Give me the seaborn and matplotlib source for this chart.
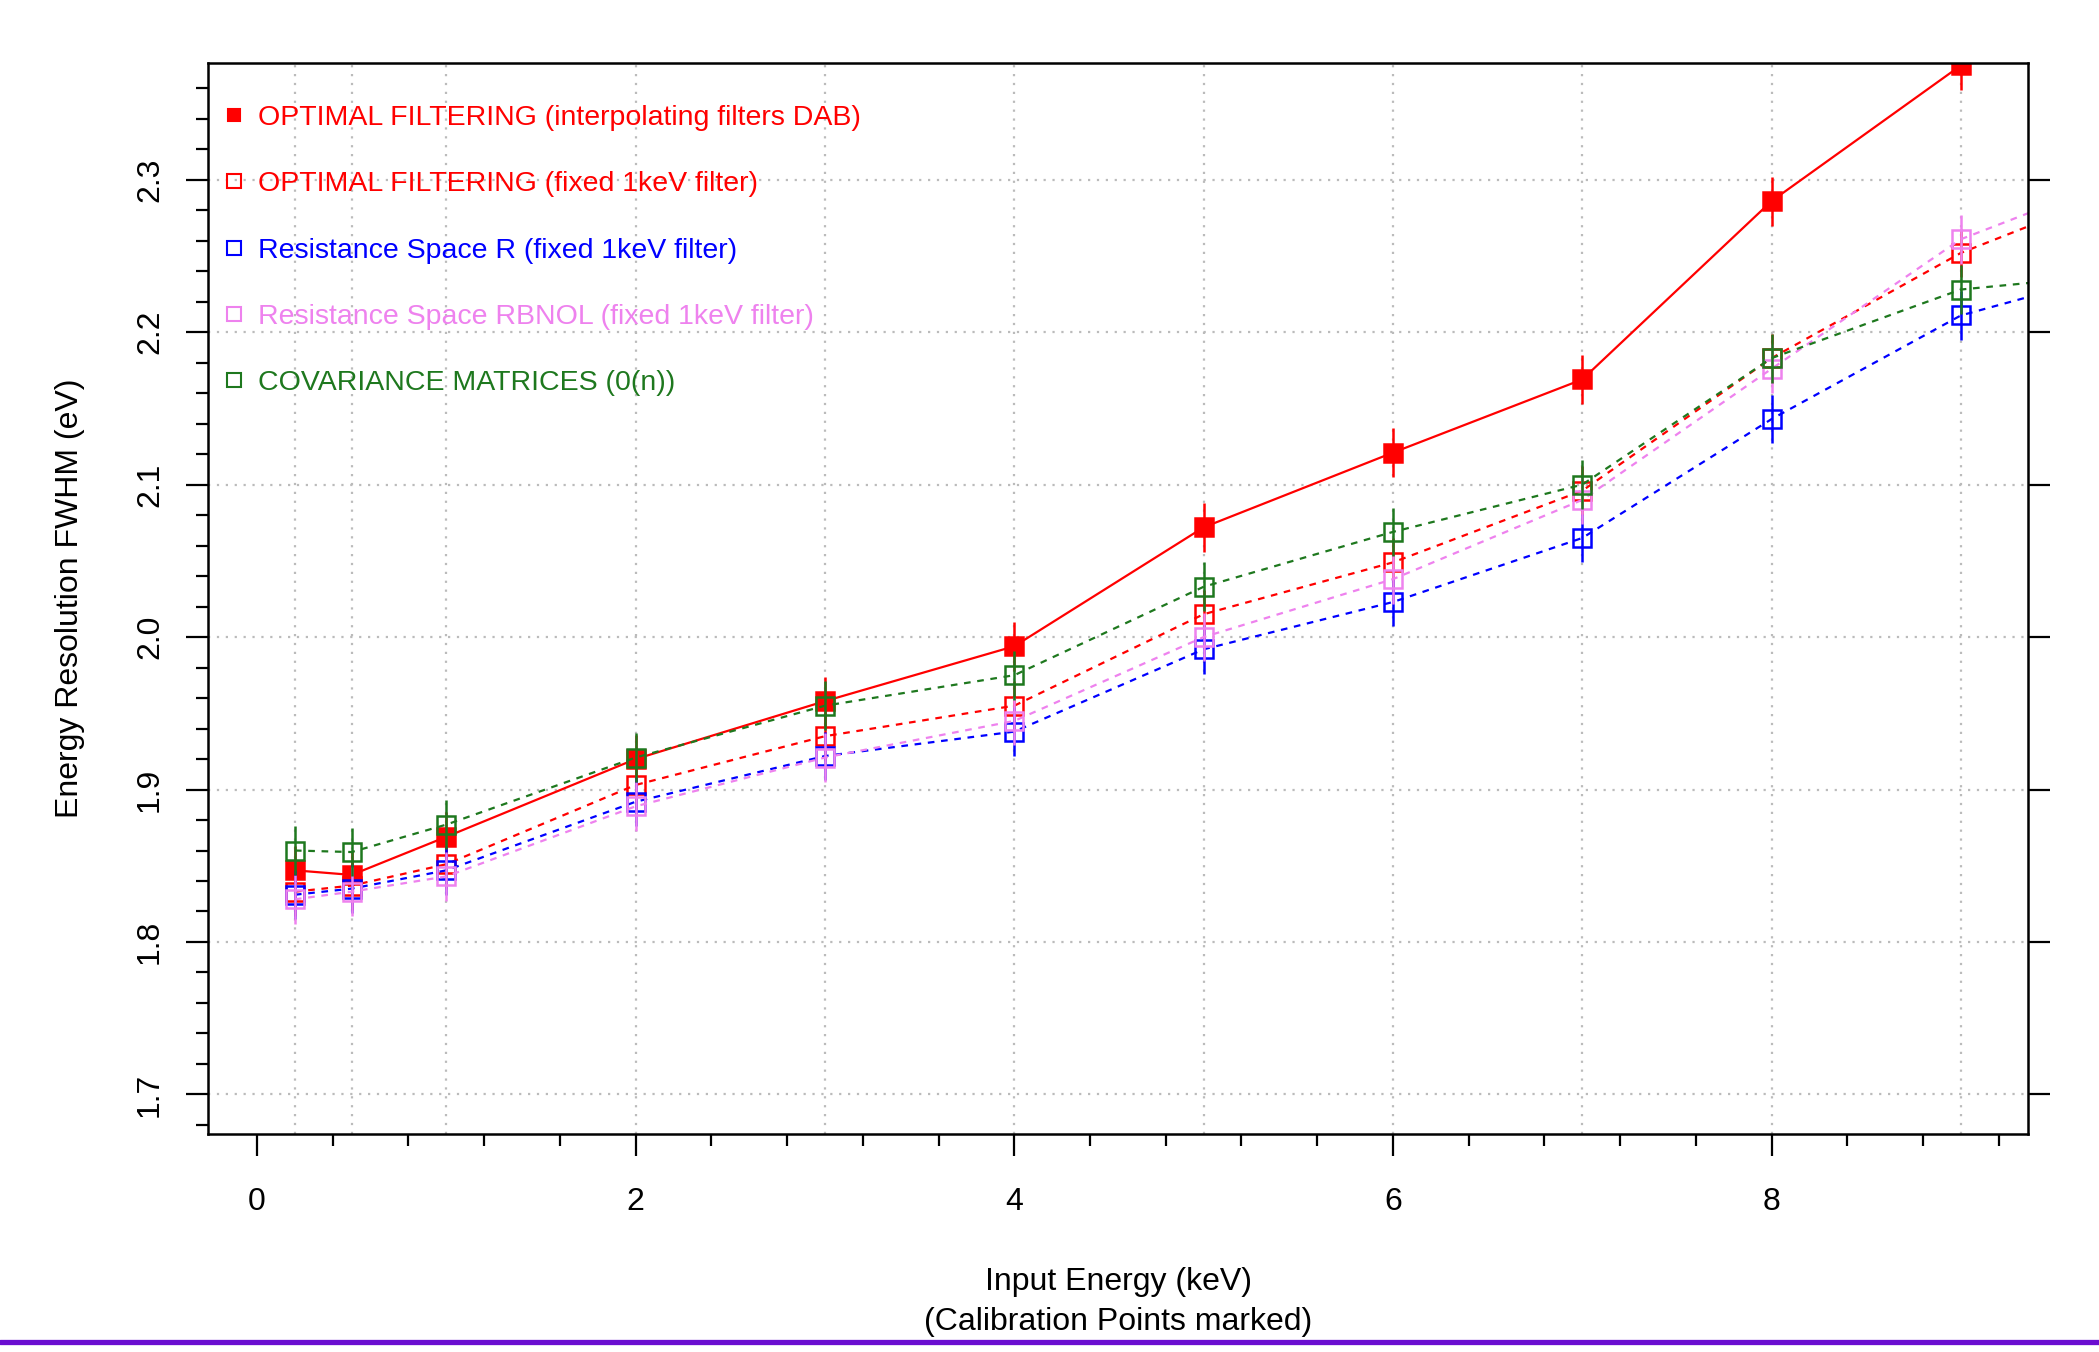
import numpy as np
import pandas as pd
import matplotlib.pyplot as plt
import seaborn as sns
from matplotlib.lines import Line2D
from matplotlib.ticker import MultipleLocator, FuncFormatter

# Calibration energies (keV) and FWHM resolutions (eV)
energy = [0.2, 0.5, 1, 2, 3, 4, 5, 6, 7, 8, 9, 10]
of_dab = [1.847, 1.844, 1.869, 1.920, 1.958, 1.994, 2.072, 2.121, 2.169, 2.286, 2.375, np.nan]
of_fixed = [1.833, 1.837, 1.851, 1.903, 1.935, 1.955, 2.015, 2.049, 2.096, 2.183, 2.252, 2.301]
rs_r = [1.831, 1.835, 1.847, 1.892, 1.922, 1.938, 1.992, 2.023, 2.065, 2.143, 2.211, 2.245]
rs_rbnol = [1.828, 1.833, 1.843, 1.889, 1.921, 1.945, 2.000, 2.038, 2.090, 2.176, 2.261, 2.309]
cov = [1.860, 1.859, 1.877, 1.921, 1.955, 1.975, 2.033, 2.069, 2.100, 2.183, 2.228, 2.240]
err = 0.016

labels = ["OPTIMAL FILTERING (interpolating filters DAB)",
          "OPTIMAL FILTERING (fixed 1keV filter)",
          "Resistance Space R (fixed 1keV filter)",
          "Resistance Space RBNOL (fixed 1keV filter)",
          "COVARIANCE MATRICES (0(n))"]
colors = ["#ff0000", "#ff0000", "#0000ff", "#ee82ee", "#1e781e"]
filled = [True, False, False, False, False]
styles = ["-", (0, (3, 3)), (0, (3, 3)), (0, (3, 3)), (0, (3, 3))]
series = [of_dab, of_fixed, rs_r, rs_rbnol, cov]
xticks = [0, 2, 4, 6, 8]

sns.set_theme(style="white")
plt.rcParams['font.family'] = ['Liberation Sans', 'DejaVu Sans']

fig = plt.figure(figsize=(20.99, 13.52), dpi=100)
ax = fig.add_axes([0.0991, 0.1612, 0.9662 - 0.0991, 0.9534 - 0.1612])

# dotted grid at calibration energies and every 0.1 eV
for e in energy[:-1]:
    ax.axvline(e, color="#bbbbbb", lw=1.6, ls=(0, (1, 3)), zorder=0)
for yv in np.arange(1.7, 2.31, 0.1):
    ax.axhline(yv, color="#bbbbbb", lw=1.6, ls=(0, (1, 3)), zorder=0)

handles = []
for vals, lab, c, f, ls in zip(series, labels, colors, filled, styles):
    df = pd.DataFrame({"energy": energy, "fwhm": vals}).dropna()
    sns.lineplot(data=df, x="energy", y="fwhm", ax=ax, color=c, lw=1.6, linestyle=ls,
                 marker="s", markersize=13, markeredgecolor=c, markeredgewidth=1.8,
                 markerfacecolor=c if f else "none", sort=False, estimator=None,
                 errorbar=None)
    ax.vlines(df["energy"], df["fwhm"] - err, df["fwhm"] + err, color=c, lw=1.8)
    handles.append(Line2D([], [], ls="none", marker="s", markersize=9 if f else 10,
                          markeredgecolor=c, markeredgewidth=1.5,
                          markerfacecolor=c if f else "none", label=lab))

ax.set_xlim(-0.259, 9.355)
ax.set_ylim(1.674, 2.3766)

leg = ax.legend(handles=handles, loc="upper left", frameon=False, fontsize=20.5,
                handlelength=0.6, handletextpad=0.55, labelspacing=1.42,
                borderaxespad=0.5, bbox_to_anchor=(-0.0045, 0.985))
for t, c in zip(leg.get_texts(), colors):
    t.set_color(c)

ax.set_xticks(xticks)
ax.set_xticklabels([str(v) for v in xticks])
ax.xaxis.set_minor_locator(MultipleLocator(0.4))
ax.yaxis.set_major_locator(MultipleLocator(0.1))
ax.yaxis.set_minor_locator(MultipleLocator(0.02))
ax.yaxis.set_major_formatter(FuncFormatter(lambda v, p: f"{v:.1f}"))
ax.tick_params(axis="both", which="both", direction="out", width=1.6, color="black",
               labelcolor="black")
ax.tick_params(axis="x", which="major", length=16, pad=22, labelsize=23, bottom=True)
ax.tick_params(axis="x", which="minor", length=8.5, bottom=True)
ax.tick_params(axis="y", which="major", length=16, pad=15, labelsize=23,
               left=True, right=True, labelrotation=90)
ax.tick_params(axis="y", which="minor", length=8.5, left=True, right=False)
for lbl in ax.get_yticklabels():
    lbl.set_va("center")
for sp in ax.spines.values():
    sp.set_color("black")
    sp.set_linewidth(1.8)

ax.set_xlabel("Input Energy (keV)\n(Calibration Points marked)", fontsize=23,
              labelpad=36, linespacing=1.45, color="black")
ax.set_ylabel("Energy Resolution FWHM (eV)", fontsize=23, labelpad=36, color="black")

# purple rule along the bottom of the slide
fig.add_artist(Line2D([0, 1], [0.0074, 0.0074], transform=fig.transFigure,
                      color="#6a0dd0", lw=3.8))

fig.savefig("out.png", dpi=100)
